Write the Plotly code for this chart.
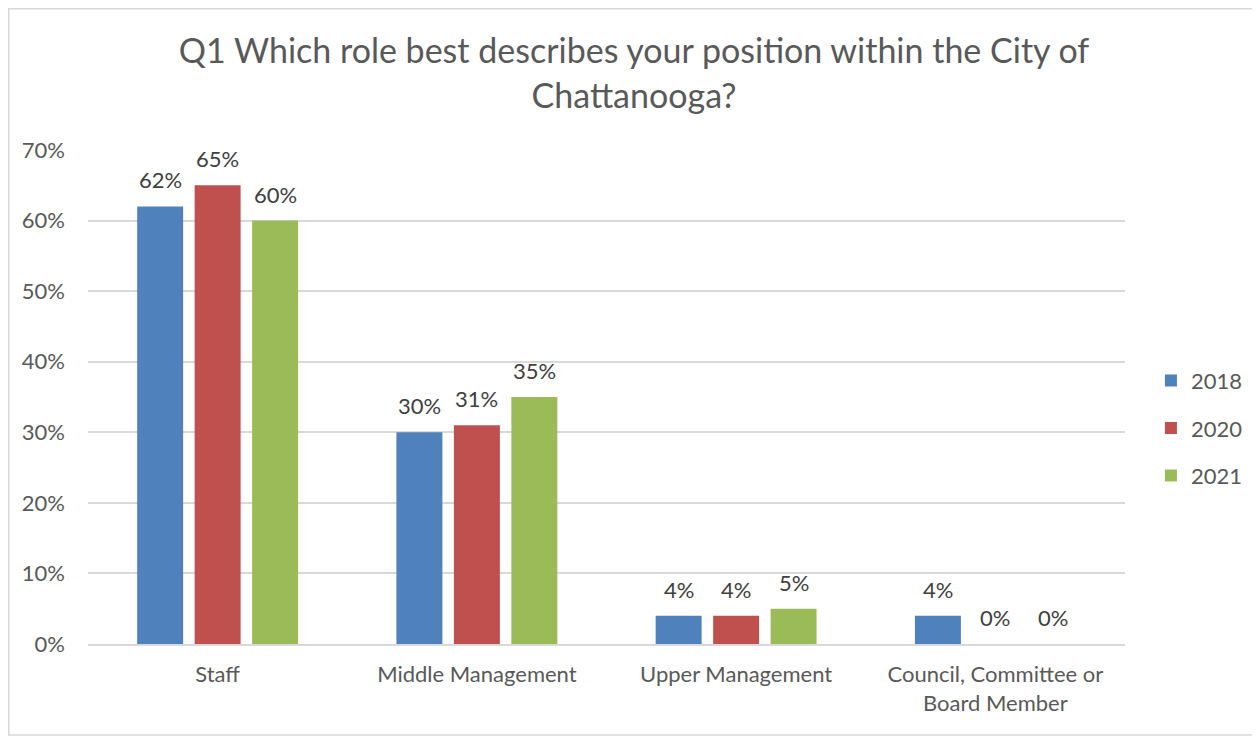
import plotly.graph_objects as go

categories = ["Staff", "Middle Management", "Upper Management", "Council, Committee or<br>Board Member"]
years = ["2018", "2020", "2021"]
v2018 = [0.62, 0.30, 0.04, 0.04]
v2020 = [0.65, 0.31, 0.04, 0.00]
v2021 = [0.60, 0.35, 0.05, 0.00]
series = [v2018, v2020, v2021]
colors = ["#4F81BD", "#C0504D", "#9BBB59"]

FONT = "Lato, 'Open Sans', sans-serif"
TXT = "#595959"
BARGAP = 0.335

W, H = 1252, 728
L, T, PW, PH = 80, 142, 1037, 494
R, B = W - L - PW, H - T - PH

fig = go.Figure()
for name, vals, col in zip(years, series, colors):
    fig.add_trace(go.Bar(
        x=list(range(len(categories))), y=vals, name=name,
        marker=dict(color=col, line=dict(width=0)),
        legendgroup=name,
    ))

# data labels above bars
slot = (1 - BARGAP) / len(series)
for i, vals in enumerate(series):
    for j, v in enumerate(vals):
        fig.add_annotation(x=j + (i - 1) * slot, y=v, xref="x", yref="y",
                           text=f"{round(v*100)}%", showarrow=False,
                           yanchor="bottom", yshift=11,
                           font=dict(size=22, color="#404040", family=FONT))

def px_x(p):
    return (p - L) / PW

def px_y(p):
    return (T + PH - p) / PH

fig.update_layout(
    width=W, height=H,
    margin=dict(l=L, r=R, t=T, b=B),
    paper_bgcolor="white", plot_bgcolor="white",
    font=dict(family=FONT, color=TXT, size=22),
    title=dict(text="Q1 Which role best describes your position within the City of<br>Chattanooga?",
               x=0.5, xanchor="center", y=0.924, yanchor="top",
               font=dict(size=34, color=TXT, family=FONT)),
    barmode="group", bargap=BARGAP, bargroupgap=0.2,
    showlegend=True,
    legend=dict(x=1.025, xanchor="left", y=0.437, yanchor="middle",
                font=dict(size=22, color=TXT), tracegroupgap=16,
                itemwidth=30),
    xaxis=dict(showline=True, linecolor="#D9D9D9", linewidth=1.5, ticks="",
               tickmode="array", tickvals=list(range(len(categories))), ticktext=categories,
               range=[-0.5, len(categories) - 0.5],
               ticklabelstandoff=10, tickfont=dict(size=22, color=TXT)),
    yaxis=dict(range=[0, 0.70], dtick=0.10, tickformat=".0%", showgrid=True,
               gridcolor="#D9D9D9", gridwidth=1.5, zeroline=False, ticks="",
               ticklabelstandoff=22, tickfont=dict(size=22, color=TXT)),
)
fig.add_shape(type="rect", xref="paper", yref="paper",
              x0=px_x(0.75), x1=px_x(1246), y0=px_y(727), y1=px_y(0.75),
              line=dict(color="#D9D9D9", width=1.5), fillcolor="rgba(0,0,0,0)", layer="below")

fig.write_html("out.html")
